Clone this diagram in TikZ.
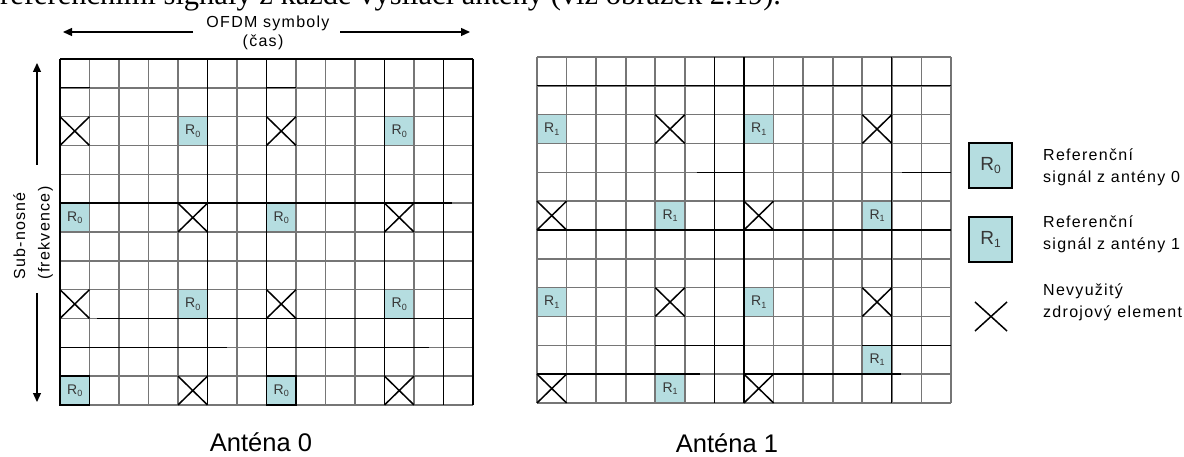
\documentclass[tikz,border=0pt]{standalone}
\usepackage{fontspec}
\setmainfont{Liberation Sans}
\newfontfamily\serifT{Liberation Serif}
\newfontfamily\lblfont[LetterSpace=8]{Liberation Sans}
\usetikzlibrary{arrows.meta}
\definecolor{refcol}{RGB}{181,221,224}
\definecolor{gridgray}{RGB}{118,118,118}
\definecolor{labgray}{RGB}{55,55,55}
\newcommand\Rsub[2]{R\raisebox{-0.35ex}{\fontsize{#2}{#2}\selectfont #1}}
\begin{document}
\begin{tikzpicture}[x=1pt,y=-1pt,
  glines/.style={draw=gridgray, line width=1.6pt},
  blines/.style={draw=black, line width=1.3pt},
  xmark/.style={draw=black, line width=1.5pt},
  refcell/.style={fill=refcol},
  cellab/.style={font=\fontsize{14}{14}\selectfont, text=labgray, inner sep=0pt},
  lbl/.style={font=\lblfont\fontsize{16}{19}\selectfont, inner sep=0pt},
  arr/.style={line width=1.3pt, -{Triangle[length=9pt,width=8pt]}},
  legbox/.style={draw=black, line width=1.2pt, fill=refcol, minimum width=43pt,
    minimum height=45pt, inner sep=0pt, font=\fontsize{19}{22}\selectfont, text=labgray},
  anten/.style={font=\fontsize{25.5}{30}\selectfont, inner sep=0pt, anchor=base}
]
\useasboundingbox (0,0) rectangle (1184,457);
\clip (0,0) rectangle (1184,457);

% cut-off body text at the top
\node[anchor=base west, inner sep=0pt, font=\serifT\fontsize{30.5}{36}\selectfont] (body) at (0,5)
  {referenčními signály z každé vysílací antény (viz obrázek 2.19).};

% ---------- Antenna 0 grid ----------
\begin{scope}[shift={(60,59)}, x=29.5pt, y=-28.83pt]
  \foreach \c/\r in {5/3,12/3,1/6,8/6,5/9,12/9,1/12,8/12}
    \fill[refcell] (\c-1,\r-1) rectangle (\c,\r);
  \foreach \i in {0,...,14} \draw[glines] (\i,0) -- (\i,12);
  \foreach \j in {0,...,12} \draw[glines] (0,\j) -- (14,\j);
  \foreach \i in {0,5,7,11,13,14} \draw[blines] (\i,0) -- (\i,12);
  \draw[blines] (0,0) -- (14,0);
  \draw[blines] (0,1) -- (1,1) (7,1) -- (8,1);
  \draw[blines] (0,5) -- (13.3,5);
  \draw[blines] (1.25,9) -- (14,9);
  \draw[blines] (0,10) -- (5.66,10) (7,10) -- (12.5,10);
  \draw[blines] (0,11) rectangle (1,12) (7,11) rectangle (8,12);
  \foreach \c/\r in {1/3,8/3,5/6,12/6,1/9,8/9,5/12,12/12}
    \draw[xmark] (\c-1,\r-1) -- (\c,\r) (\c-1,\r) -- (\c,\r-1);
  \foreach \c/\r in {5/3,12/3,1/6,8/6,5/9,12/9,1/12,8/12}
    \node[cellab] (a\c-\r) at (\c-0.5,\r-0.5) {\Rsub{0}{9}};
\end{scope}

% ---------- Antenna 1 grid ----------
\begin{scope}[shift={(537,57)}, x=29.57pt, y=-28.83pt]
  \foreach \c/\r in {1/3,8/3,5/6,12/6,1/9,8/9,12/11,5/12}
    \fill[refcell] (\c-1,\r-1) rectangle (\c,\r);
  \foreach \i in {0,...,14} \draw[glines] (\i,0) -- (\i,12);
  \foreach \j in {0,...,12} \draw[glines] (0,\j) -- (14,\j);
  \foreach \i in {6,7,12} \draw[blines] (\i,0) -- (\i,12);
  \draw[blines] (0,1) -- (14,1) (0,6) -- (14,6);
  \draw[blines] (5.4,4) -- (7,4) (12.35,4) -- (14,4);
  \draw[blines] (4,10) -- (7,10) (11,10) -- (14,10);
  \draw[blines] (0,11) -- (5.5,11) (7,11) -- (12.3,11);
  \foreach \c/\r in {5/3,12/3,1/6,8/6,5/9,12/9,1/12,8/12}
    \draw[xmark] (\c-1,\r-1) -- (\c,\r) (\c-1,\r) -- (\c,\r-1);
  \foreach \c/\r in {1/3,8/3,5/6,12/6,1/9,8/9,12/11,5/12}
    \node[cellab] (b\c-\r) at (\c-0.5,\r-0.5) {\Rsub{1}{9}};
\end{scope}

% ---------- axis labels and arrows ----------
\node[lbl, anchor=base] (ofdm) at (268,28) {OFDM symboly};
\node[lbl, anchor=base] (cas) at (263,47) {(čas)};
\coordinate (tLs) at (193,32);
\coordinate (tL) at (63,32);
\coordinate (tRs) at (340,32);
\coordinate (tR) at (470,32);
\draw[arr] (tLs) -- (tL);
\draw[arr] (tRs) -- (tR);

\node[lbl, rotate=90, anchor=base] (sub) at (25,236) {Sub-nosné};
\node[lbl, rotate=90, anchor=base] (frek) at (49.5,233) {(frekvence)};
\coordinate (vUs) at (37,165);
\coordinate (vU) at (37,63);
\coordinate (vDs) at (37,293);
\coordinate (vD) at (37,402);
\draw[arr] (vUs) -- (vU);
\draw[arr] (vDs) -- (vD);

% ---------- antenna captions ----------
\node[anten] (ant0) at (261,451) {Anténa 0};
\node[anten] (ant1) at (727,452) {Anténa 1};

% ---------- legend ----------
\node[legbox] (leg0) at (990.5,165.5) {\Rsub{0}{12}};
\node[legbox] (leg1) at (990.5,239.5) {\Rsub{1}{12}};
\coordinate (lxa) at (975,302);
\coordinate (lxb) at (1007,331);
\coordinate (lxc) at (975,331);
\coordinate (lxd) at (1007,302);
\draw[xmark] (lxa) -- (lxb) (lxc) -- (lxd);

\node[lbl, anchor=base west] (t1a) at (1043,161) {Referenční};
\node[lbl, anchor=base west] (t1b) at (1043,183) {signál z antény 0};
\node[lbl, anchor=base west] (t2a) at (1043,228) {Referenční};
\node[lbl, anchor=base west] (t2b) at (1043,250) {signál z antény 1};
\node[lbl, anchor=base west] (t3a) at (1043,295) {Nevyužitý};
\node[lbl, anchor=base west] (t3b) at (1043,317) {zdrojový element};
\end{tikzpicture}
\end{document}
